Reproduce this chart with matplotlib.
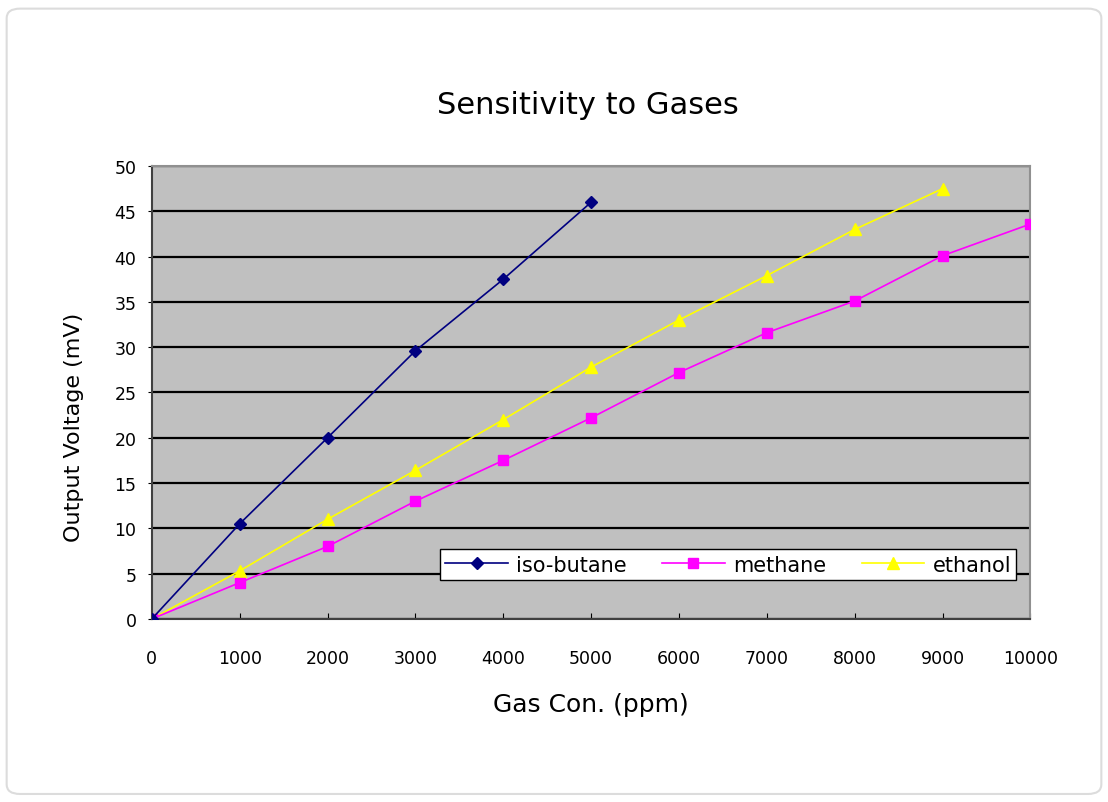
import matplotlib.pyplot as plt
from matplotlib.patches import FancyBboxPatch

# data
conc_butane = [0, 1000, 2000, 3000, 4000, 5000]
volt_butane = [0, 10.5, 20.0, 29.6, 37.5, 46.0]
conc_methane = [0, 1000, 2000, 3000, 4000, 5000, 6000, 7000, 8000, 9000, 10000]
volt_methane = [0, 4.0, 8.0, 13.0, 17.5, 22.2, 27.2, 31.6, 35.1, 40.1, 43.6]
conc_ethanol = [0, 1000, 2000, 3000, 4000, 5000, 6000, 7000, 8000, 9000]
volt_ethanol = [0, 5.3, 11.0, 16.4, 22.0, 27.8, 33.0, 37.9, 43.0, 47.5]
xticks = list(range(0, 10001, 1000))
yticks = list(range(0, 51, 5))

fig = plt.figure(figsize=(11.08, 8.03), dpi=100)
fig.patch.set_facecolor('white')

# rounded outer frame
frame = FancyBboxPatch((0.006, 0.010), 0.988, 0.978, boxstyle="round,pad=0,rounding_size=0.012",
                       transform=fig.transFigure, facecolor='none', edgecolor='#dcdcdc',
                       linewidth=1.5, zorder=-1)
fig.patches.append(frame)

ax = fig.add_axes([0.137, 0.228, 0.793, 0.564])
ax.set_facecolor('#c0c0c0')

ax.plot(conc_butane, volt_butane, color='#000080', marker='D', markersize=6, linewidth=1.2,
        label='iso-butane', zorder=5)
ax.plot(conc_methane, volt_methane, color='#ff00ff', marker='s', markersize=7, linewidth=1.2,
        label='methane', zorder=4)
ax.plot(conc_ethanol, volt_ethanol, color='#ffff00', marker='^', markersize=8, linewidth=1.2,
        label='ethanol', zorder=3)

ax.set_xlim(0, 10000)
ax.set_ylim(0, 50)
ax.set_xticks(xticks)
ax.set_yticks(yticks)
ax.tick_params(axis='x', direction='in', length=4, labelsize=12.5, pad=22)
ax.tick_params(axis='y', direction='out', length=3, labelsize=12.5, pad=8)
ax.yaxis.grid(True, color='black', linewidth=1.6)
ax.set_axisbelow(True)
for s in ['left', 'bottom']:
    ax.spines[s].set_color('#404040')
    ax.spines[s].set_linewidth(1.5)
for s in ['top', 'right']:
    ax.spines[s].set_color('#909090')
    ax.spines[s].set_linewidth(1.5)

ax.set_xlabel('Gas Con. (ppm)', fontsize=18, labelpad=18)
ax.set_ylabel('Output Voltage (mV)', fontsize=16)
ax.yaxis.set_label_coords(-0.077, 0.426)
fig.text(0.531, 0.868, 'Sensitivity to Gases', fontsize=22, ha='center', va='center')

leg = ax.legend(loc='center', bbox_to_anchor=(0.656, 0.120),
                ncol=3, fancybox=False, framealpha=1, edgecolor='black', fontsize=15,
                handlelength=3.0, borderpad=0.25, borderaxespad=0, columnspacing=1.7,
                handletextpad=0.4)
leg.get_frame().set_linewidth(1.0)

plt.savefig('out.png', dpi=100)
